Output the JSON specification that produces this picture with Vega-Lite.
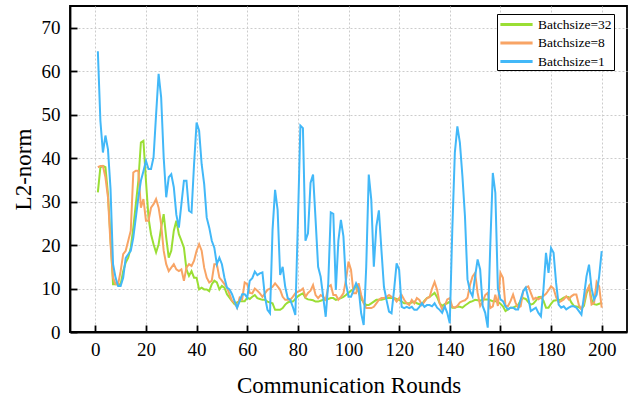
{
"$schema": "https://vega.github.io/schema/vega-lite/v6.json",
"width": 557,
"height": 326,
"autosize": {"type": "none"},
"padding": {"left": 70, "top": 6, "right": 5, "bottom": 68},
"background": "white",
"config": {
  "font": "Liberation Serif",
  "view": {"stroke": "#000", "strokeWidth": 1.8},
  "axis": {
    "domainColor": "#000", "domainWidth": 1.8,
    "tickColor": "#000", "tickWidth": 1.8, "tickSize": -7,
    "labelFont": "Liberation Serif", "labelFontSize": 19, "labelColor": "#000",
    "titleFont": "Liberation Serif", "titleFontSize": 23, "titleFontWeight": "normal", "titleColor": "#000",
    "grid": true, "gridColor": "#cccccc", "gridDash": [2, 2], "gridWidth": 1
  }
},
"data": {"values": [
{"r":1,"b32":32.1,"b8":37.9,"b1":64.6},{"r":2,"b32":37.9,"b8":38.2,"b1":48.6},{"r":3,"b32":38.2,"b8":38.2,"b1":41.3},{"r":4,"b32":37.9,"b8":35.6,"b1":45.2},{"r":5,"b32":31.7,"b8":31,"b1":42},
{"r":6,"b32":21.7,"b8":20.2,"b1":33},{"r":7,"b32":11,"b8":12.5,"b1":15.6},{"r":8,"b32":11,"b8":11,"b1":12.5},{"r":9,"b32":11,"b8":11,"b1":10.6},{"r":10,"b32":11,"b8":14,"b1":10.6},
{"r":11,"b32":14,"b8":17.9,"b1":12.5},{"r":12,"b32":16,"b8":18.7,"b1":17},{"r":13,"b32":17.1,"b8":21,"b1":17.9},{"r":14,"b32":19.4,"b8":23.3,"b1":18.7},{"r":15,"b32":24,"b8":36.7,"b1":21.7},
{"r":16,"b32":29.4,"b8":37.1,"b1":26.3},{"r":17,"b32":34.8,"b8":37.1,"b1":31},{"r":18,"b32":43.6,"b8":28.6,"b1":34.8},{"r":19,"b32":44,"b8":30.6,"b1":37},{"r":20,"b32":34.8,"b8":25.6,"b1":39.4},
{"r":21,"b32":26.3,"b8":25.6,"b1":37.5},{"r":22,"b32":22.5,"b8":28.6,"b1":37.5},{"r":23,"b32":20.2,"b8":29.4,"b1":40.2},{"r":24,"b32":18.3,"b8":30.6,"b1":50},{"r":25,"b32":20.2,"b8":28.6,"b1":59.4},
{"r":26,"b32":24,"b8":24.8,"b1":54},{"r":27,"b32":27.1,"b8":18.7,"b1":40.2},{"r":28,"b32":21.7,"b8":15.6,"b1":31},{"r":29,"b32":17.1,"b8":14,"b1":35.6},{"r":30,"b32":18.7,"b8":14.8,"b1":36.3},
{"r":31,"b32":23.3,"b8":15.6,"b1":33.3},{"r":32,"b32":25.6,"b8":14.4,"b1":27},{"r":33,"b32":22.5,"b8":14,"b1":24},{"r":34,"b32":21,"b8":14.4,"b1":29.4},{"r":35,"b32":19.4,"b8":11.8,"b1":34.8},
{"r":36,"b32":14.4,"b8":14.8,"b1":34.8},{"r":37,"b32":12.9,"b8":15.6,"b1":27.9},{"r":38,"b32":14,"b8":15.2,"b1":27.5},{"r":39,"b32":12.5,"b8":16.4,"b1":38.6},{"r":40,"b32":12.5,"b8":18.7,"b1":48.2},
{"r":41,"b32":9.8,"b8":20.2,"b1":46.3},{"r":42,"b32":10.2,"b8":18.7,"b1":38.6},{"r":43,"b32":9.8,"b8":14.8,"b1":34},{"r":44,"b32":9.8,"b8":12.5,"b1":26.3},{"r":45,"b32":9.4,"b8":11.4,"b1":24},
{"r":46,"b32":11,"b8":11.8,"b1":21},{"r":47,"b32":11.8,"b8":15.6,"b1":19.4},{"r":48,"b32":11.4,"b8":15.6,"b1":15.6},{"r":49,"b32":9.8,"b8":12.5,"b1":17.1},{"r":50,"b32":10.6,"b8":11.8,"b1":15.6},
{"r":51,"b32":10.2,"b8":11,"b1":12.5},{"r":52,"b32":8.7,"b8":10.2,"b1":10.2},{"r":53,"b32":7.9,"b8":8.7,"b1":9.8},{"r":54,"b32":7.1,"b8":7.1,"b1":8.7},{"r":55,"b32":6.4,"b8":6.8,"b1":7.1},
{"r":56,"b32":6.8,"b8":5.6,"b1":5.6},{"r":57,"b32":7.1,"b8":7.9,"b1":7.1},{"r":58,"b32":7.1,"b8":7.5,"b1":8.7},{"r":59,"b32":7.1,"b8":11.4,"b1":8.7},{"r":60,"b32":7.9,"b8":11,"b1":7.9},
{"r":61,"b32":7.6,"b8":9,"b1":11.8},{"r":62,"b32":8.1,"b8":8.9,"b1":12.4},{"r":63,"b32":8.5,"b8":10,"b1":13.9},{"r":64,"b32":7.8,"b8":9.5,"b1":13.1},{"r":65,"b32":7.6,"b8":8.9,"b1":13.5},
{"r":66,"b32":7.4,"b8":8.1,"b1":13.7},{"r":67,"b32":7.4,"b8":8.9,"b1":8.1},{"r":68,"b32":7,"b8":9.7,"b1":5.1},{"r":69,"b32":6.8,"b8":10,"b1":4.3},{"r":70,"b32":6.6,"b8":10.4,"b1":23.5},
{"r":71,"b32":5.1,"b8":11.2,"b1":32.7},{"r":72,"b32":5.1,"b8":10.5,"b1":28.1},{"r":73,"b32":5.1,"b8":9.7,"b1":13.1},{"r":74,"b32":5.5,"b8":8.1,"b1":15},{"r":75,"b32":6.3,"b8":7.4,"b1":10.4},
{"r":76,"b32":6.8,"b8":7.4,"b1":7.8},{"r":77,"b32":7,"b8":7.4,"b1":7.4},{"r":78,"b32":7,"b8":8.1,"b1":5.8},{"r":79,"b32":7.6,"b8":8.9,"b1":3.9},{"r":80,"b32":8.2,"b8":9.3,"b1":25},
{"r":81,"b32":8.6,"b8":9.5,"b1":47.5},{"r":82,"b32":8.9,"b8":10,"b1":46.9},{"r":83,"b32":7.8,"b8":8.1,"b1":21},{"r":84,"b32":7.5,"b8":9,"b1":22.7},{"r":85,"b32":7.4,"b8":9.5,"b1":34.3},
{"r":86,"b32":7.3,"b8":10.8,"b1":36.2},{"r":87,"b32":7,"b8":8.5,"b1":25.8},{"r":88,"b32":7,"b8":7.8,"b1":15},{"r":89,"b32":7.2,"b8":8.5,"b1":12.7},{"r":90,"b32":7.4,"b8":8.1,"b1":8.1},
{"r":91,"b32":7.4,"b8":7.4,"b1":3.5},{"r":92,"b32":7.6,"b8":10.4,"b1":11.2},{"r":93,"b32":7.8,"b8":10.8,"b1":27.5},{"r":94,"b32":7.8,"b8":8.5,"b1":27.2},{"r":95,"b32":7.4,"b8":8.5,"b1":9.7},
{"r":96,"b32":7.6,"b8":7.4,"b1":21},{"r":97,"b32":7.8,"b8":8.1,"b1":25.8},{"r":98,"b32":8.1,"b8":8.9,"b1":22},{"r":99,"b32":8.5,"b8":12,"b1":11.2},{"r":100,"b32":9,"b8":16.2,"b1":8.1},
{"r":101,"b32":9.5,"b8":14.3,"b1":8.1},{"r":102,"b32":9.9,"b8":8.9,"b1":9.7},{"r":103,"b32":10.4,"b8":8.9,"b1":11.2},{"r":104,"b32":9.2,"b8":11.2,"b1":10},{"r":105,"b32":7.6,"b8":8.5,"b1":4.3},
{"r":106,"b32":6.8,"b8":6.6,"b1":1.6},{"r":107,"b32":6.2,"b8":5.5,"b1":15},{"r":108,"b32":6.2,"b8":5.5,"b1":36.2},{"r":109,"b32":6.6,"b8":5.5,"b1":30.4},{"r":110,"b32":7,"b8":5.8,"b1":15},
{"r":111,"b32":7.4,"b8":6.6,"b1":24.3},{"r":112,"b32":7.4,"b8":7.4,"b1":28},{"r":113,"b32":7.4,"b8":7.8,"b1":18.9},{"r":114,"b32":7.6,"b8":7.8,"b1":10.4},{"r":115,"b32":7.8,"b8":8.1,"b1":7.4},
{"r":116,"b32":7.8,"b8":8.5,"b1":4.7},{"r":117,"b32":7.8,"b8":8.1,"b1":4.3},{"r":118,"b32":7.8,"b8":7.8,"b1":9.7},{"r":119,"b32":7.6,"b8":7,"b1":15.8},{"r":120,"b32":7.4,"b8":7.8,"b1":14.3},
{"r":121,"b32":7,"b8":8.5,"b1":5.8},{"r":122,"b32":6.6,"b8":7.4,"b1":5.5},{"r":123,"b32":6.6,"b8":6.6,"b1":5.8},{"r":124,"b32":6.6,"b8":6.2,"b1":5.5},{"r":125,"b32":6.8,"b8":7.4,"b1":5.8},
{"r":126,"b32":7,"b8":6.6,"b1":5.1},{"r":127,"b32":6.6,"b8":7.8,"b1":5.1},{"r":128,"b32":6.4,"b8":7.4,"b1":5.8},{"r":129,"b32":6.4,"b8":6.2,"b1":6.6},{"r":130,"b32":7.2,"b8":7,"b1":5.8},
{"r":131,"b32":7.8,"b8":7.8,"b1":6.2},{"r":132,"b32":8.1,"b8":8,"b1":6.2},{"r":133,"b32":8.5,"b8":10,"b1":5.9},{"r":134,"b32":9,"b8":11.5,"b1":6.6},{"r":135,"b32":8,"b8":9.7,"b1":5.6},
{"r":136,"b32":6.6,"b8":6.6,"b1":5.1},{"r":137,"b32":6,"b8":5.2,"b1":4.4},{"r":138,"b32":6.4,"b8":6,"b1":5.9},{"r":139,"b32":6.6,"b8":7.5,"b1":4.4},{"r":140,"b32":7,"b8":7.8,"b1":2},
{"r":141,"b32":5.6,"b8":5.8,"b1":23.6},{"r":142,"b32":5.6,"b8":5.6,"b1":41.2},{"r":143,"b32":5.8,"b8":6,"b1":47.3},{"r":144,"b32":5.8,"b8":6.8,"b1":43.5},{"r":145,"b32":5.6,"b8":7.1,"b1":35.8},
{"r":146,"b32":6.1,"b8":7.3,"b1":26.6},{"r":147,"b32":6.5,"b8":7.9,"b1":12.1},{"r":148,"b32":6.9,"b8":10.9,"b1":9.4},{"r":149,"b32":7.1,"b8":12.8,"b1":8.2},{"r":150,"b32":7.4,"b8":13.6,"b1":12.8},
{"r":151,"b32":7.3,"b8":9,"b1":16.7},{"r":152,"b32":7.2,"b8":6,"b1":14.4},{"r":153,"b32":7.5,"b8":7,"b1":6},{"r":154,"b32":7.5,"b8":8.5,"b1":4.4},{"r":155,"b32":7.5,"b8":9,"b1":1},
{"r":156,"b32":7.3,"b8":5.5,"b1":20},{"r":157,"b32":7.1,"b8":5.9,"b1":36.6},{"r":158,"b32":7.1,"b8":8.6,"b1":32},{"r":159,"b32":6.9,"b8":6,"b1":10},{"r":160,"b32":6.5,"b8":13.6,"b1":7.5},
{"r":161,"b32":5.9,"b8":12.5,"b1":7.1},{"r":162,"b32":4.8,"b8":6,"b1":5.9},{"r":163,"b32":5.2,"b8":6,"b1":5.2},{"r":164,"b32":5.6,"b8":7.1,"b1":5.6},{"r":165,"b32":5.6,"b8":8.6,"b1":5.6},
{"r":166,"b32":5.9,"b8":6.7,"b1":5.2},{"r":167,"b32":6.2,"b8":5.6,"b1":5.2},{"r":168,"b32":7.3,"b8":5.9,"b1":7.5},{"r":169,"b32":7.8,"b8":9.4,"b1":9.4},{"r":170,"b32":7.6,"b8":10.2,"b1":10.2},
{"r":171,"b32":6.9,"b8":10.5,"b1":7.9},{"r":172,"b32":6.3,"b8":9,"b1":4.8},{"r":173,"b32":6.5,"b8":7.5,"b1":5.2},{"r":174,"b32":7.2,"b8":7.9,"b1":5.6},{"r":175,"b32":8,"b8":7.5,"b1":4.4},
{"r":176,"b32":8.1,"b8":7.9,"b1":3.6},{"r":177,"b32":7.2,"b8":8.3,"b1":9.8},{"r":178,"b32":5.6,"b8":8.8,"b1":18.2},{"r":179,"b32":5.6,"b8":9.6,"b1":13.6},{"r":180,"b32":6.5,"b8":10.5,"b1":19.3},
{"r":181,"b32":7.2,"b8":10,"b1":18.2},{"r":182,"b32":7.3,"b8":8,"b1":11.3},{"r":183,"b32":7.3,"b8":6.8,"b1":6.3},{"r":184,"b32":7.5,"b8":7.1,"b1":5.6},{"r":185,"b32":7.9,"b8":7.5,"b1":5.9},
{"r":186,"b32":8.1,"b8":8.2,"b1":5.2},{"r":187,"b32":8,"b8":7.5,"b1":5.6},{"r":188,"b32":6.8,"b8":8.2,"b1":5.9},{"r":189,"b32":6,"b8":8.6,"b1":5.9},{"r":190,"b32":5.9,"b8":8.6,"b1":5.6},
{"r":191,"b32":5.7,"b8":6.2,"b1":4.8},{"r":192,"b32":5.3,"b8":5.2,"b1":4},{"r":193,"b32":6,"b8":6.8,"b1":8.2},{"r":194,"b32":8.8,"b8":9.4,"b1":12.8},{"r":195,"b32":10.4,"b8":10.5,"b1":15.5},
{"r":196,"b32":7.5,"b8":6.3,"b1":10},{"r":197,"b32":6.4,"b8":6.7,"b1":7.5},{"r":198,"b32":6.3,"b8":11.5,"b1":8.6},{"r":199,"b32":6.5,"b8":10.5,"b1":12.8},{"r":200,"b32":6.7,"b8":5.6,"b1":18.6}
]},
"transform": [{"fold": ["b32", "b8", "b1"], "as": ["series", "value"]}],
"mark": {"type": "line", "strokeWidth": 2, "clip": true},
"encoding": {
  "x": {"field": "r", "type": "quantitative",
        "scale": {"domain": [-10, 210], "nice": false, "zero": false},
        "axis": {"values": [0,20,40,60,80,100,120,140,160,180,200], "title": "Communication Rounds", "labelPadding": 15, "titlePadding": 15}},
  "y": {"field": "value", "type": "quantitative",
        "scale": {"domain": [0, 75], "nice": false},
        "axis": {"values": [0,10,20,30,40,50,60,70], "title": "L2-norm", "labelPadding": 17, "titlePadding": 6}},
  "color": {"field": "series", "type": "nominal",
            "scale": {"domain": ["b32", "b8", "b1"], "range": ["#9ade34", "#f8a465", "#42b8f8"]},
            "legend": {"title": null, "orient": "none", "legendX": 427, "legendY": 8,
                       "labelExpr": "datum.value == 'b32' ? 'Batchsize=32' : datum.value == 'b8' ? 'Batchsize=8' : 'Batchsize=1'",
                       "symbolType": "M-2.3,0H2.3", "symbolSize": 196, "symbolStrokeWidth": 3, "symbolOffset": 9,
                       "labelFont": "Liberation Serif", "labelFontSize": 13.5, "labelColor": "#000", "labelOffset": 13,
                       "rowPadding": 3.5, "padding": 2, "strokeColor": "#000", "fillColor": "#fff", "cornerRadius": 0}}
}
}
